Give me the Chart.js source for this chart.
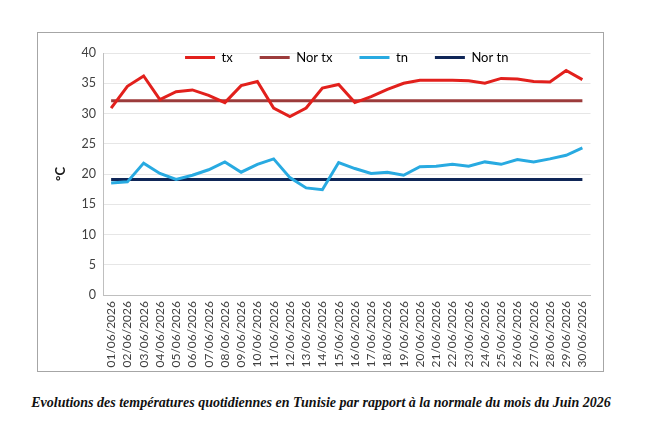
<!DOCTYPE html>
<html>
<head>
<meta charset="utf-8">
<script src="https://cdn.jsdelivr.net/npm/chart.js@4.4.0/dist/chart.umd.min.js"></script>
<style>
  html, body { margin: 0; padding: 0; background: #fff; }
  body { width: 660px; height: 432px; position: relative; overflow: hidden; }
  #box {
    position: absolute; left: 37px; top: 32px; width: 567px; height: 340px;
    border: 1px solid #a6a6a6; box-sizing: border-box;
  }
  #box canvas { position: absolute; left: 0; top: 0; }
  #caption {
    position: absolute; left: -9px; width: 660px; top: 395px; text-align: center;
    font-family: "Liberation Serif", serif; font-weight: bold; font-style: italic;
    font-size: 14px; color: #111; white-space: nowrap;
  }
</style>
</head>
<body>
<div id="box"><canvas id="c" width="565" height="338"></canvas></div>
<div id="caption">Evolutions des températures quotidiennes en Tunisie par rapport à la normale du mois du Juin 2026</div>
<script>
const days = [
  '01/06/2026','02/06/2026','03/06/2026','04/06/2026','05/06/2026','06/06/2026',
  '07/06/2026','08/06/2026','09/06/2026','10/06/2026','11/06/2026','12/06/2026',
  '13/06/2026','14/06/2026','15/06/2026','16/06/2026','17/06/2026','18/06/2026',
  '19/06/2026','20/06/2026','21/06/2026','22/06/2026','23/06/2026','24/06/2026',
  '25/06/2026','26/06/2026','27/06/2026','28/06/2026','29/06/2026','30/06/2026'
];
const tx = [30.9, 34.5, 36.2, 32.3, 33.6, 33.9, 33.0, 31.8, 34.6, 35.3,
            30.9, 29.5, 30.9, 34.2, 34.8, 31.8, 32.8, 34.0, 35.0, 35.5,
            35.5, 35.5, 35.4, 35.0, 35.8, 35.7, 35.3, 35.2, 37.1, 35.6];
const norTx = 32.1;
const tn = [18.5, 18.7, 21.8, 20.1, 19.1, 19.8, 20.7, 22.0, 20.3, 21.6,
            22.5, 19.4, 17.7, 17.4, 21.9, 20.9, 20.1, 20.3, 19.8, 21.2,
            21.3, 21.6, 21.3, 22.0, 21.6, 22.4, 22.0, 22.5, 23.1, 24.3];
const norTn = 19.1;
const yTicks = [0, 5, 10, 15, 20, 25, 30, 35, 40];

const flat = v => days.map(() => v);

// legend takes no room in the layout, then gets drawn over the top of the plot
const overlapLegend = {
  id: 'overlapLegend',
  beforeInit(chart) {
    const fit = chart.legend.fit;
    chart.legend.fit = function () {
      fit.call(this);
      this._realHeight = this.height;
      this.height = 0;
    };
  },
  afterLayout(chart) {
    const lg = chart.legend;
    lg.top = -9;
    lg.height = lg._realHeight;
    lg.bottom = lg.top + lg.height;
  }
};

const line = (label, data, color) => ({
  label: label,
  data: data,
  borderColor: color,
  backgroundColor: color,
  borderWidth: 3,
  pointRadius: 0,
  tension: 0,
  fill: false
});

new Chart(document.getElementById('c'), {
  type: 'line',
  data: {
    labels: days,
    datasets: [
      line('tx', tx, '#e2201c'),
      line('Nor tx', flat(norTx), '#9c3b3b'),
      line('tn', tn, '#28aae1'),
      line('Nor tn', flat(norTn), '#0f2657')
    ]
  },
  options: {
    responsive: false,
    animation: false,
    layout: { padding: { left: 15, right: 12, top: 20, bottom: 2 } },
    plugins: {
      tooltip: { enabled: false },
      legend: {
        position: 'top',
        fullSize: false,
        labels: {
          boxWidth: 30,
          boxHeight: 3,
          padding: 27,
          color: '#404040',
          font: { family: 'Lato, "Open Sans", sans-serif', size: 13 },
          generateLabels(chart) {
            return chart.data.datasets.map((ds, i) => ({
              text: ds.label,
              fillStyle: ds.borderColor,
              strokeStyle: ds.borderColor,
              lineWidth: 0,
              datasetIndex: i
            }));
          }
        }
      }
    },
    scales: {
      x: {
        offset: true,
        grid: { display: false, drawTicks: false, offset: true },
        border: { color: '#bfbfbf', width: 1 },
        ticks: {
          color: '#404040',
          minRotation: 90,
          maxRotation: 90,
          autoSkip: false,
          padding: 6,
          font: { family: 'Lato, "Open Sans", sans-serif', size: 12 }
        },
        afterFit(s) { s.height = 74; }
      },
      y: {
        min: 0,
        max: 40,
        afterBuildTicks(s) { s.ticks = yTicks.map(v => ({ value: v })); },
        grid: { color: '#e6e6e6', drawTicks: false },
        border: { color: '#bfbfbf', width: 1 },
        ticks: {
          color: '#404040',
          padding: 7,
          font: { family: 'Lato, "Open Sans", sans-serif', size: 12.5 }
        },
        title: {
          display: true,
          text: '°C',
          color: '#1a1a1a',
          padding: 0,
          font: { family: 'Lato, "Open Sans", sans-serif', size: 13, weight: 'bold' }
        },
        afterFit(s) { s.width = 50; }
      }
    }
  },
  plugins: [overlapLegend]
});
</script>
</body>
</html>
